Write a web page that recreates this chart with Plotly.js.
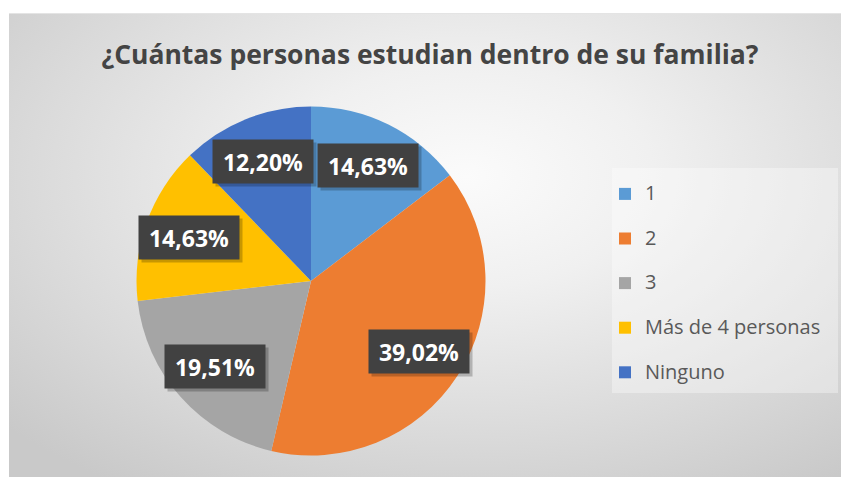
<!DOCTYPE html>
<html><head><meta charset="utf-8">
<script src="https://cdn.plot.ly/plotly-3.0.1.min.js"></script>
<style>
html,body{margin:0;padding:0;background:#fff;}
#wrap{position:relative;width:841px;height:477px;overflow:hidden;background:#fff;}
#bg{position:absolute;left:9px;top:13px;width:832px;height:464px;
  background:radial-gradient(ellipse 75% 80% at 55% 35%, #fbfbfb 0%, #f0f0f0 30%, #dadada 70%, #c9c9c9 100%);
  border-top:1px solid #e4e4e4;}
#chart{position:absolute;left:0;top:0;width:841px;height:477px;}
</style></head><body>
<div id="wrap"><div id="bg"></div><div id="chart"></div></div>
<script>
const categories = ['1', '2', '3', 'Más de 4 personas', 'Ninguno'];
const counts = [6, 16, 8, 6, 5];
const sliceColors = ['#5B9BD5', '#ED7D31', '#A5A5A5', '#FFC000', '#4472C4'];
const chartTitle = '¿Cuántas personas estudian dentro de su familia?';

const W = 841, H = 477;
const domX = [(311 - 174.5) / W, (311 + 174.5) / W];
const domY = [(H - 281 - 174.5) / H, (H - 281 + 174.5) / H];

const total = counts.reduce((a, b) => a + b, 0);
const R = Math.min(W * (domX[1] - domX[0]), H * (domY[1] - domY[0])) / 2;
const cx = (domX[0] + domX[1]) / 2, cy = (domY[0] + domY[1]) / 2;
let cum = 0;
const annotations = [];
counts.forEach((v) => {
  const mid = (cum + v / 2) / total * 2 * Math.PI;
  cum += v;
  const rr = R * 0.74;
  const x = cx + rr * Math.sin(mid) / W;
  const y = cy + rr * Math.cos(mid) / H;
  annotations.push({
    xref: 'paper', yref: 'paper', x: x, y: y, xshift: 3, yshift: -3,
    text: ' ', showarrow: false, xanchor: 'center', yanchor: 'middle',
    bgcolor: 'rgba(0,0,0,0.22)', width: 98, height: 41,
    font: {size: 22}
  });
  annotations.push({
    xref: 'paper', yref: 'paper', x: x, y: y,
    text: (v / total * 100).toFixed(2).replace('.', ',') + '%',
    showarrow: false,
    xanchor: 'center', yanchor: 'middle',
    bgcolor: '#414141',
    width: 98, height: 41,
    font: {family: 'Open Sans', size: 23, weight: 700, color: '#ffffff'}
  });
});

// legend entries: first line is the category, an empty second line gives Excel-like spacing
const legendLabels = categories.map(c => '<span style="font-size:20px">' + c + '</span><br>&nbsp;');

const trace = {
  type: 'pie',
  labels: legendLabels,
  values: counts,
  sort: false,
  direction: 'clockwise',
  rotation: 0,
  marker: {colors: sliceColors, line: {width: 0}},
  textinfo: 'none',
  hoverinfo: 'none',
  domain: {x: domX, y: domY}
};

const layout = {
  width: W, height: H,
  margin: {l: 0, r: 0, t: 0, b: 0},
  paper_bgcolor: 'rgba(0,0,0,0)',
  plot_bgcolor: 'rgba(0,0,0,0)',
  title: {
    text: chartTitle,
    x: 430 / W, xanchor: 'center', xref: 'paper',
    y: 1 - 55 / H, yanchor: 'middle', yref: 'paper',
    font: {family: 'Open Sans', size: 26.5, weight: 700, color: '#444444'}
  },
  showlegend: true,
  legend: {
    x: 605 / W, xanchor: 'left',
    y: 1 - 177 / H, yanchor: 'top',
    bgcolor: 'rgba(0,0,0,0)',
    valign: 'top',
    font: {family: 'Open Sans', size: 16, color: '#595959'}
  },
  shapes: [{
    type: 'rect', xref: 'paper', yref: 'paper', layer: 'below',
    x0: 612 / W, x1: 838 / W, y0: 1 - 393 / H, y1: 1 - 168 / H,
    fillcolor: 'rgba(255,255,255,0.35)', line: {width: 0}
  }],
  annotations: annotations
};

Plotly.newPlot('chart', [trace], layout, {displayModeBar: false, staticPlot: true});
</script>
</body></html>
